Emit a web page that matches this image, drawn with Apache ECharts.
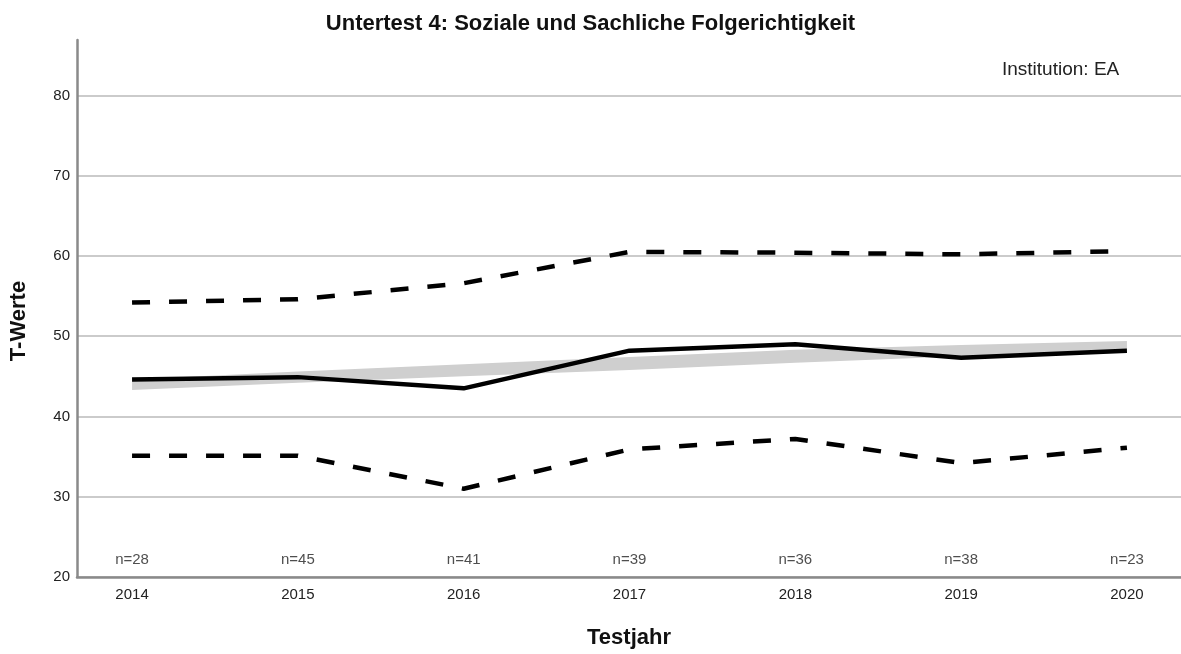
<!DOCTYPE html>
<html>
<head>
<meta charset="utf-8">
<script src="https://cdn.jsdelivr.net/npm/echarts@6/dist/echarts.min.js"></script>
<style>
  html, body { margin: 0; padding: 0; background: #fff; }
  #chart { width: 1181px; height: 654px; }
</style>
</head>
<body>
<div id="chart"></div>
<script>
// data
const years = [2014, 2015, 2016, 2017, 2018, 2019, 2020];
const nLabels = ['n=28', 'n=45', 'n=41', 'n=39', 'n=36', 'n=38', 'n=23'];
const meanValues = [44.6, 44.9, 43.5, 48.2, 49.0, 47.3, 48.2];
const upperValues = [54.2, 54.6, 56.6, 60.5, 60.4, 60.2, 60.6];
const lowerValues = [35.1, 35.1, 31.0, 35.9, 37.2, 34.2, 36.1];
const trendLow = [43.3, 44.2, 45.0, 45.8, 46.7, 47.5, 48.3];
const trendHigh = [44.6, 45.6, 46.5, 47.4, 48.3, 48.9, 49.4];
const yTicks = [20, 30, 40, 50, 60, 70, 80];

const font = 'Liberation Sans, Arial, sans-serif';
const pairs = (vals) => years.map((y, i) => [y, vals[i]]);

const chart = echarts.init(document.getElementById('chart'));

const option = {
  animation: false,
  backgroundColor: '#fff',
  title: {
    text: 'Untertest 4: Soziale und Sachliche Folgerichtigkeit',
    left: 'center',
    top: 8,
    textStyle: { fontFamily: font, fontSize: 22, fontWeight: 'bold', color: '#111' }
  },
  graphic: [
    {
      type: 'text',
      left: 1002,
      top: 60,
      style: { text: 'Institution: EA', fontFamily: font, fontSize: 19, fill: '#222' }
    },
    {
      type: 'text',
      x: 8,
      y: 321,
      rotation: Math.PI / 2,
      style: {
        text: 'T-Werte', fontFamily: font, fontSize: 22, fontWeight: 'bold', fill: '#111',
        align: 'center', verticalAlign: 'top'
      }
    }
  ],
  grid: { left: 77, right: 0, top: 40, bottom: 72 },
  xAxis: {
    type: 'value',
    min: 2013.668,
    max: 2020.326,
    name: 'Testjahr',
    nameLocation: 'middle',
    nameGap: 50,
    nameTextStyle: { fontFamily: font, fontSize: 22, fontWeight: 'bold', color: '#111' },
    axisLine: { lineStyle: { color: '#8a8a8a', width: 2.5 } },
    axisTick: { show: false },
    splitLine: { show: false },
    axisLabel: {
      customValues: years,
      margin: 10,
      fontFamily: font, fontSize: 15, color: '#222',
      formatter: (v) => String(Math.round(v))
    }
  },
  yAxis: {
    type: 'value',
    min: 20,
    max: 86.9,
    interval: 10,
    axisLine: { show: true, lineStyle: { color: '#8a8a8a', width: 2.5 } },
    axisTick: { show: false },
    splitLine: { showMaxLine: false, lineStyle: { color: '#cbcbcb', width: 2 } },
    axisLabel: {
      customValues: yTicks,
      margin: 7,
      fontFamily: font, fontSize: 15, color: '#222'
    }
  },
  series: [
    {
      // grey trend band
      type: 'custom',
      silent: true,
      data: [0],
      renderItem: (params, api) => {
        const top = years.map((y, i) => api.coord([y, trendHigh[i]]));
        const bottom = years.map((y, i) => api.coord([y, trendLow[i]])).reverse();
        return {
          type: 'polygon',
          shape: { points: top.concat(bottom) },
          style: { fill: '#cfcfcf' }
        };
      },
      z: 1
    },
    {
      name: 'Obere Grenze',
      type: 'line',
      data: pairs(upperValues),
      symbol: 'none',
      lineStyle: { color: '#000', width: 4.5, type: [18, 19] },
      z: 3
    },
    {
      name: 'Untere Grenze',
      type: 'line',
      data: pairs(lowerValues),
      symbol: 'none',
      lineStyle: { color: '#000', width: 4.5, type: [18, 19] },
      z: 3
    },
    {
      name: 'Mittelwert',
      type: 'line',
      data: pairs(meanValues),
      symbol: 'none',
      lineStyle: { color: '#000', width: 4.5 },
      z: 3
    },
    {
      type: 'scatter',
      data: years.map((y) => [y, 22.1]),
      symbolSize: 0,
      silent: true,
      label: {
        show: true,
        position: 'inside',
        formatter: (p) => nLabels[p.dataIndex],
        fontFamily: font, fontSize: 15, color: '#222'
      }
    }
  ]
};

chart.setOption(option);
</script>
</body>
</html>
